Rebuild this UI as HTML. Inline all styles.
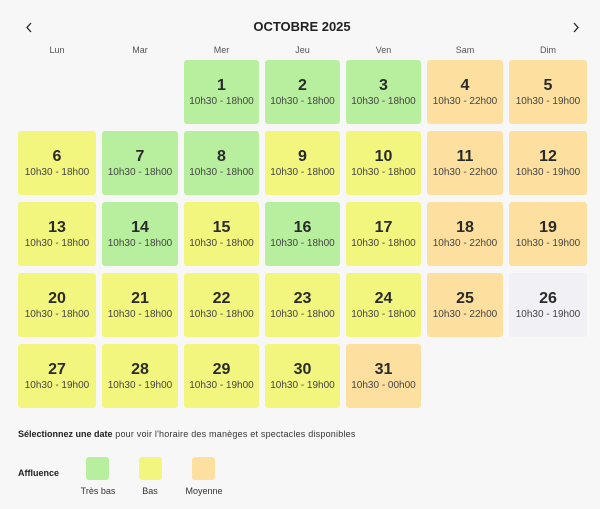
<!DOCTYPE html>
<html><head><meta charset="utf-8"><style>
*{margin:0;padding:0;box-sizing:border-box}
html,body{width:600px;height:509px;background:#f7f7f7;overflow:hidden;font-family:"Liberation Sans",sans-serif;color:#2b2b2b}
.abs{position:absolute}
.title{left:0;width:604px;top:19px;text-align:center;font-weight:bold;font-size:13px;line-height:16px;color:#222}
.dl{top:45px;font-size:9px;line-height:10px;color:#555;text-align:center}
.c{position:absolute;height:64px;border-radius:3px;text-align:center}
.c .n{position:absolute;left:0;right:0;top:17px;font-size:16px;font-weight:bold;line-height:18px;color:#2a2a2a}
.c .t{position:absolute;left:0;right:0;top:36px;font-size:10px;line-height:12px;color:#444}
.g{background:#b8ef9e}.y{background:#f2f57e}.o{background:#fde09f}.x{background:#f0f0f5}
.sel{left:18px;top:429px;font-size:9px;line-height:11px;color:#333;white-space:nowrap}
.sel span{letter-spacing:0.21px}
.aff{left:18px;top:468px;font-size:9px;font-weight:bold;line-height:11px;color:#222}
.lb{top:457px;width:23px;height:23px;border-radius:3px}
.ll{top:486px;font-size:9px;line-height:11px;color:#333;text-align:center;width:60px}
</style></head><body>
<svg class="abs" style="left:24px;top:21px" width="10" height="13" viewBox="0 0 10 13"><path d="M7 2 L3 6.5 L7 11" fill="none" stroke="#222" stroke-width="1.3"/></svg>
<svg class="abs" style="left:571px;top:21px" width="10" height="13" viewBox="0 0 10 13"><path d="M3 2 L7 6.5 L3 11" fill="none" stroke="#222" stroke-width="1.3"/></svg>
<div class="abs title">OCTOBRE 2025</div>
<div class="abs dl" style="left:18px;width:78px">Lun</div>
<div class="abs dl" style="left:102px;width:76px">Mar</div>
<div class="abs dl" style="left:184px;width:75px">Mer</div>
<div class="abs dl" style="left:265px;width:75px">Jeu</div>
<div class="abs dl" style="left:346px;width:75px">Ven</div>
<div class="abs dl" style="left:427px;width:76px">Sam</div>
<div class="abs dl" style="left:509px;width:78px">Dim</div>

<div class="c g" style="left:184px;top:60px;width:75px"><div class="n">1</div><div class="t">10h30 - 18h00</div></div>
<div class="c g" style="left:265px;top:60px;width:75px"><div class="n">2</div><div class="t">10h30 - 18h00</div></div>
<div class="c g" style="left:346px;top:60px;width:75px"><div class="n">3</div><div class="t">10h30 - 18h00</div></div>
<div class="c o" style="left:427px;top:60px;width:76px"><div class="n">4</div><div class="t">10h30 - 22h00</div></div>
<div class="c o" style="left:509px;top:60px;width:78px"><div class="n">5</div><div class="t">10h30 - 19h00</div></div>

<div class="c y" style="left:18px;top:131px;width:78px"><div class="n">6</div><div class="t">10h30 - 18h00</div></div>
<div class="c g" style="left:102px;top:131px;width:76px"><div class="n">7</div><div class="t">10h30 - 18h00</div></div>
<div class="c g" style="left:184px;top:131px;width:75px"><div class="n">8</div><div class="t">10h30 - 18h00</div></div>
<div class="c y" style="left:265px;top:131px;width:75px"><div class="n">9</div><div class="t">10h30 - 18h00</div></div>
<div class="c y" style="left:346px;top:131px;width:75px"><div class="n">10</div><div class="t">10h30 - 18h00</div></div>
<div class="c o" style="left:427px;top:131px;width:76px"><div class="n">11</div><div class="t">10h30 - 22h00</div></div>
<div class="c o" style="left:509px;top:131px;width:78px"><div class="n">12</div><div class="t">10h30 - 19h00</div></div>

<div class="c y" style="left:18px;top:202px;width:78px"><div class="n">13</div><div class="t">10h30 - 18h00</div></div>
<div class="c g" style="left:102px;top:202px;width:76px"><div class="n">14</div><div class="t">10h30 - 18h00</div></div>
<div class="c y" style="left:184px;top:202px;width:75px"><div class="n">15</div><div class="t">10h30 - 18h00</div></div>
<div class="c g" style="left:265px;top:202px;width:75px"><div class="n">16</div><div class="t">10h30 - 18h00</div></div>
<div class="c y" style="left:346px;top:202px;width:75px"><div class="n">17</div><div class="t">10h30 - 18h00</div></div>
<div class="c o" style="left:427px;top:202px;width:76px"><div class="n">18</div><div class="t">10h30 - 22h00</div></div>
<div class="c o" style="left:509px;top:202px;width:78px"><div class="n">19</div><div class="t">10h30 - 19h00</div></div>

<div class="c y" style="left:18px;top:273px;width:78px"><div class="n">20</div><div class="t">10h30 - 18h00</div></div>
<div class="c y" style="left:102px;top:273px;width:76px"><div class="n">21</div><div class="t">10h30 - 18h00</div></div>
<div class="c y" style="left:184px;top:273px;width:75px"><div class="n">22</div><div class="t">10h30 - 18h00</div></div>
<div class="c y" style="left:265px;top:273px;width:75px"><div class="n">23</div><div class="t">10h30 - 18h00</div></div>
<div class="c y" style="left:346px;top:273px;width:75px"><div class="n">24</div><div class="t">10h30 - 18h00</div></div>
<div class="c o" style="left:427px;top:273px;width:76px"><div class="n">25</div><div class="t">10h30 - 22h00</div></div>
<div class="c x" style="left:509px;top:273px;width:78px"><div class="n">26</div><div class="t">10h30 - 19h00</div></div>

<div class="c y" style="left:18px;top:344px;width:78px"><div class="n">27</div><div class="t">10h30 - 19h00</div></div>
<div class="c y" style="left:102px;top:344px;width:76px"><div class="n">28</div><div class="t">10h30 - 19h00</div></div>
<div class="c y" style="left:184px;top:344px;width:75px"><div class="n">29</div><div class="t">10h30 - 19h00</div></div>
<div class="c y" style="left:265px;top:344px;width:75px"><div class="n">30</div><div class="t">10h30 - 19h00</div></div>
<div class="c o" style="left:346px;top:344px;width:75px"><div class="n">31</div><div class="t">10h30 - 00h00</div></div>

<div class="abs sel"><b style="color:#222">Sélectionnez une date</b><span> pour voir l'horaire des manèges et spectacles disponibles</span></div>
<div class="abs aff">Affluence</div>
<div class="abs lb g" style="left:86px"></div>
<div class="abs lb y" style="left:139px"></div>
<div class="abs lb o" style="left:192px"></div>
<div class="abs ll" style="left:68px">Très bas</div>
<div class="abs ll" style="left:120px">Bas</div>
<div class="abs ll" style="left:174px">Moyenne</div>
</body></html>
